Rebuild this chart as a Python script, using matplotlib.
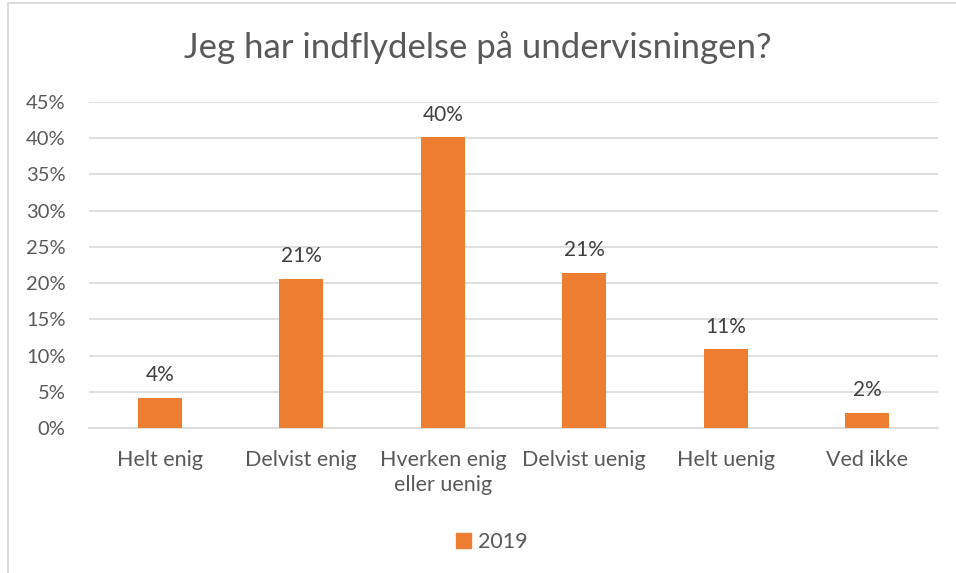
import matplotlib
matplotlib.use("Agg")
import matplotlib.pyplot as plt
from matplotlib.patches import Rectangle
from matplotlib.ticker import MultipleLocator, FuncFormatter

categories = ["Helt enig", "Delvist enig", "Hverken enig\neller uenig", "Delvist uenig", "Helt uenig", "Ved ikke"]
values_2019 = [4.2, 20.6, 40.1, 21.4, 10.9, 2.1]
labels_2019 = ["4%", "21%", "40%", "21%", "11%", "2%"]
series_name = "2019"
title = "Jeg har indflydelse på undervisningen?"

plt.rcParams['font.family'] = ['Lato', 'DejaVu Sans']
text_color = "#595959"
bar_color = "#ED7D31"

fig = plt.figure(figsize=(9.56, 5.73), dpi=100)
fig.patch.set_facecolor("white")
# chart border (only left and top visible in reference)
fig.patches.append(Rectangle((7.5/956, -0.1), 1.2, 1.1 - 3.5/573, transform=fig.transFigure,
                             fill=False, edgecolor="#D9D9D9", linewidth=1.3))

ax = fig.add_axes([89/956, 1 - 428/573, (938 - 89)/956, (428 - 102)/573])
x = list(range(len(categories)))
ax.bar(x, values_2019, width=0.31, color=bar_color, zorder=3, label=series_name)
for xi, v, lab in zip(x, values_2019, labels_2019):
    ax.annotate(lab, (xi, v), xytext=(0, 9), textcoords="offset points", ha="center", va="bottom",
                fontsize=15, color="#404040")

ax.set_xlim(-0.5, len(categories) - 0.5)
ax.set_ylim(0, 45)
ax.yaxis.set_major_locator(MultipleLocator(5))
ax.yaxis.set_major_formatter(FuncFormatter(lambda v, p: f"{int(round(v))}%"))
ax.grid(axis="y", color="#D9D9D9", linewidth=1.2, zorder=0)
for s in ["top", "right", "left"]:
    ax.spines[s].set_visible(False)
ax.spines["bottom"].set_color("#D9D9D9")
ax.spines["bottom"].set_linewidth(1.2)
ax.set_xticks(x)
ax.set_xticklabels(categories, fontsize=15.5, color=text_color, linespacing=1.3, va="top")
ax.tick_params(axis="x", length=0, pad=16)
ax.tick_params(axis="y", length=0, labelsize=14.5, labelcolor=text_color, pad=17)

fig.text(0.5, 1 - 48/573, title, ha="center", va="center", fontsize=25, color=text_color)

handle = Rectangle((0, 0), 1, 1, color=bar_color)
fig.legend([handle], [series_name], loc="center", bbox_to_anchor=(492/956, 1 - 542/573), frameon=False,
           fontsize=15.5, labelcolor=text_color, handlelength=0.7, handleheight=0.7, handletextpad=0.3)

fig.savefig("out.png", dpi=100)
